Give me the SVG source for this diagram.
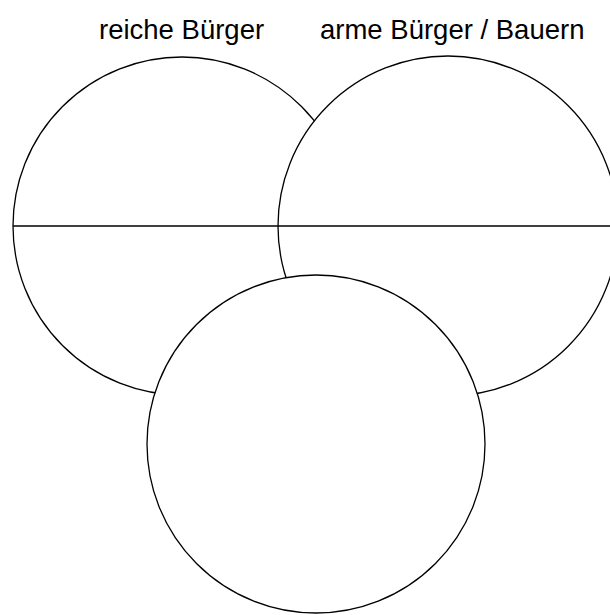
<svg xmlns="http://www.w3.org/2000/svg" width="610" height="615" viewBox="0 0 610 615">
<style>
.c{fill:#fff;stroke:#000;stroke-width:1.3}
.l{stroke:#000;stroke-width:1.3;fill:none}
.t{font-family:"Liberation Sans",Arial,sans-serif;font-size:27.5px;fill:#000}
</style>
<rect width="610" height="615" fill="#fff"/>
<g id="label-reich"><text class="t" x="99" y="39">reiche Bürger</text></g>
<g id="label-arm"><text class="t" x="320" y="39">arme Bürger / Bauern</text></g>
<g id="node-left">
<circle class="c" cx="182" cy="226" r="169"/>
<line class="l" x1="13" y1="226" x2="351" y2="226"/>
</g>
<g id="node-right">
<circle class="c" cx="448" cy="226" r="170"/>
<line class="l" x1="278" y1="226" x2="618" y2="226"/>
</g>
<g id="node-bottom">
<circle class="c" cx="316" cy="444" r="169"/>
</g>
<g id="connectors"></g>
</svg>
